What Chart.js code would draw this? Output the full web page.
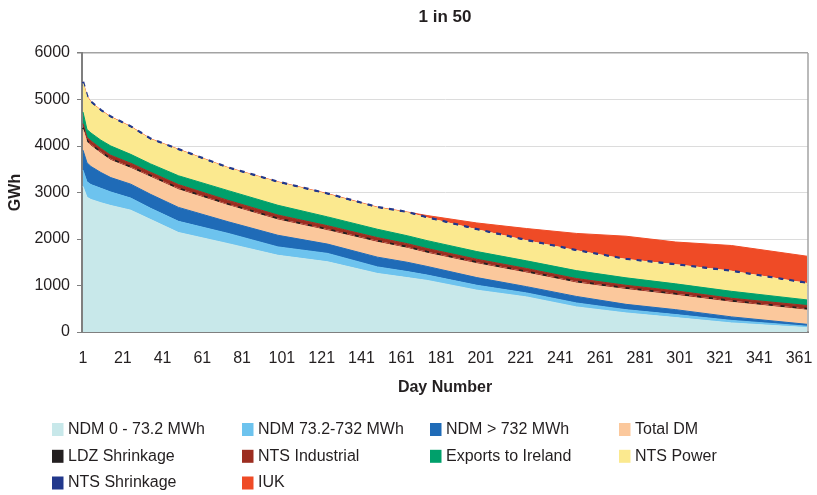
<!DOCTYPE html>
<html>
<head>
<meta charset="utf-8">
<script src="https://cdn.jsdelivr.net/npm/chart.js@4/dist/chart.umd.min.js"></script>
<style>
  html, body { margin: 0; padding: 0; background: #ffffff; }
  #wrap { width: 817px; height: 495px; }
</style>
</head>
<body>
<div id="wrap"><canvas id="chart" width="817" height="495"></canvas></div>
<script>
// Day numbers at which the daily demand curve is sampled
const days = [1, 3, 5, 10, 15, 25, 35, 49, 74, 99, 124, 149, 164, 174, 199, 224, 249, 274, 299, 327, 365];

// Labels shown along the day axis
const tickDays = [1, 21, 41, 61, 81, 101, 121, 141, 161, 181, 201, 221, 241, 261, 281, 301, 321, 341, 361];

const seriesNames = [
  'NDM 0 - 73.2 MWh', 'NDM 73.2-732 MWh', 'NDM > 732 MWh', 'Total DM',
  'LDZ Shrinkage', 'NTS Industrial', 'Exports to Ireland', 'NTS Power',
  'NTS Shrinkage', 'IUK'
];

// Demand per component, GWh (stacked, bottom to top)
const ndmSmall      = [3130, 2900, 2850, 2780, 2720, 2620, 2420, 2140, 1900, 1650, 1510, 1260, 1170, 1110, 900, 755, 540, 410, 310, 195, 95];
const ndmMid        = [350, 330, 320, 310, 290, 260, 240, 240, 220, 180, 180, 140, 130, 115, 105, 85, 85, 70, 65, 55, 30];
const ndmLarge      = [430, 410, 390, 340, 310, 300, 300, 300, 250, 250, 200, 210, 200, 185, 165, 135, 140, 115, 105, 75, 40];
const totalDM       = [450, 440, 440, 410, 370, 340, 370, 380, 350, 330, 290, 320, 300, 285, 300, 295, 290, 320, 310, 315, 305];
const ldzShrinkage  = [30, 30, 30, 30, 30, 30, 30, 30, 30, 30, 30, 30, 30, 30, 30, 30, 30, 30, 30, 30, 30];
const ntsIndustrial = [90, 75, 80, 75, 80, 80, 75, 80, 80, 75, 75, 70, 70, 70, 65, 65, 65, 60, 65, 55, 70];
const exportsIreland= [250, 170, 170, 180, 200, 190, 180, 190, 210, 210, 190, 180, 170, 170, 165, 165, 170, 160, 150, 150, 120];
const ntsPower      = [615, 690, 635, 610, 595, 565, 505, 535, 460, 470, 465, 440, 475, 465, 445, 410, 405, 370, 385, 405, 330];
const ntsShrinkage  = [35, 35, 35, 35, 35, 35, 35, 35, 35, 35, 35, 35, 35, 35, 35, 35, 35, 35, 35, 35, 35];
const iuk           = [0, 0, 0, 0, 0, 0, 0, 0, 0, 0, 0, 0, 0, 40, 135, 250, 360, 490, 480, 545, 575];

const seriesValues = [ndmSmall, ndmMid, ndmLarge, totalDM, ldzShrinkage, ntsIndustrial,
                      exportsIreland, ntsPower, ntsShrinkage, iuk];

const seriesColors = ['#c8e8ea', '#6dc3ee', '#1f6bb7', '#fbc89c', '#231f20', '#9c2d20',
                      '#00a06b', '#fbe98f', '#22388c', '#ef4b26'];

const FONT = 'Arial, "Liberation Sans", sans-serif';
const TEXT = '#231f20';

const datasets = seriesValues.map((vals, i) => ({
  label: seriesNames[i],
  data: vals.map((v, j) => ({ x: days[j], y: v })),
  backgroundColor: seriesColors[i],
  borderColor: seriesColors[i],
  borderWidth: 1,
  fill: i === 0 ? 'origin' : '-1',
  pointRadius: 0,
  pointHoverRadius: 0,
  tension: 0
}));

// Thin shrinkage bands: dashed edges on top of the neighbouring fills
Object.assign(datasets[4], {
  backgroundColor: seriesColors[5],
  borderColor: seriesColors[4],
  borderWidth: 2,
  borderDash: [4, 8]
});
Object.assign(datasets[8], {
  backgroundColor: seriesColors[7],
  borderColor: seriesColors[8],
  borderWidth: 2.5,
  borderDash: [5, 6]
});

// Plot frame on the right and the 4-column legend grid below the axis
const frameAndLegend = {
  id: 'frameAndLegend',
  afterDraw(chart) {
    const ctx = chart.ctx;
    const a = chart.chartArea;
    ctx.save();
    ctx.strokeStyle = '#a3a3a3';
    ctx.lineWidth = 1.5;
    ctx.beginPath();
    ctx.moveTo(a.right, a.top);
    ctx.lineTo(a.right, a.bottom);
    ctx.stroke();

    const colX = [52, 242, 430, 619];
    const rowY = [429.5, 456.3, 483];
    ctx.font = '16px ' + FONT;
    ctx.textBaseline = 'middle';
    ctx.textAlign = 'left';
    seriesNames.forEach((name, i) => {
      const x = colX[i % 4];
      const y = rowY[Math.floor(i / 4)];
      ctx.fillStyle = seriesColors[i];
      ctx.fillRect(x, y - 6.5, 11.5, 13);
      ctx.fillStyle = TEXT;
      ctx.fillText(name, x + 16, y);
    });
    ctx.restore();
  }
};

new Chart(document.getElementById('chart'), {
  type: 'line',
  data: { datasets },
  plugins: [frameAndLegend],
  options: {
    responsive: false,
    animation: false,
    devicePixelRatio: 1,
    layout: { padding: { top: 0, right: 9, bottom: 93, left: 0 } },
    plugins: {
      legend: { display: false },
      tooltip: { enabled: false },
      title: {
        display: true,
        text: '1 in 50',
        fullSize: false,
        color: TEXT,
        font: { family: FONT, size: 17, weight: 'bold' },
        padding: { top: 7.5, bottom: 25.1 }
      }
    },
    scales: {
      x: {
        type: 'linear',
        min: 0.5,
        max: 365.5,
        afterBuildTicks: (axis) => { axis.ticks = tickDays.map(v => ({ value: v })); },
        afterFit: (axis) => {
          axis.height = 70;
          axis.paddingLeft = 0;
          axis.paddingRight = 0;
        },
        grid: { display: false, drawTicks: false },
        border: { display: true, color: '#7f7f7f', width: 2 },
        ticks: {
          autoSkip: false,
          maxRotation: 0,
          padding: 17,
          color: TEXT,
          font: { family: FONT, size: 16 },
          callback: (v) => String(v)
        },
        title: {
          display: true,
          text: 'Day Number',
          color: TEXT,
          font: { family: FONT, size: 16, weight: 'bold' },
          padding: { top: 0, bottom: 4.4 }
        }
      },
      y: {
        stacked: true,
        min: 0,
        max: 6000,
        afterFit: (axis) => {
          axis.width = 82;
          axis.paddingTop = 0;
          axis.paddingBottom = 0;
        },
        grid: {
          color: (c) => (c.tick && c.tick.value === 6000 ? '#a3a3a3' : '#dcdcdc'),
          lineWidth: (c) => (c.tick && c.tick.value === 6000 ? 1.5 : 1),
          tickColor: '#7f7f7f',
          tickLength: 5
        },
        border: { display: true, color: '#7f7f7f', width: 2 },
        ticks: {
          stepSize: 1000,
          padding: 7,
          color: TEXT,
          font: { family: FONT, size: 16 },
          callback: (v) => String(v)
        },
        title: {
          display: true,
          text: 'GWh',
          color: TEXT,
          font: { family: FONT, size: 16, weight: 'bold' },
          padding: { top: 6.4, bottom: 0 }
        }
      }
    }
  }
});
</script>
</body>
</html>
